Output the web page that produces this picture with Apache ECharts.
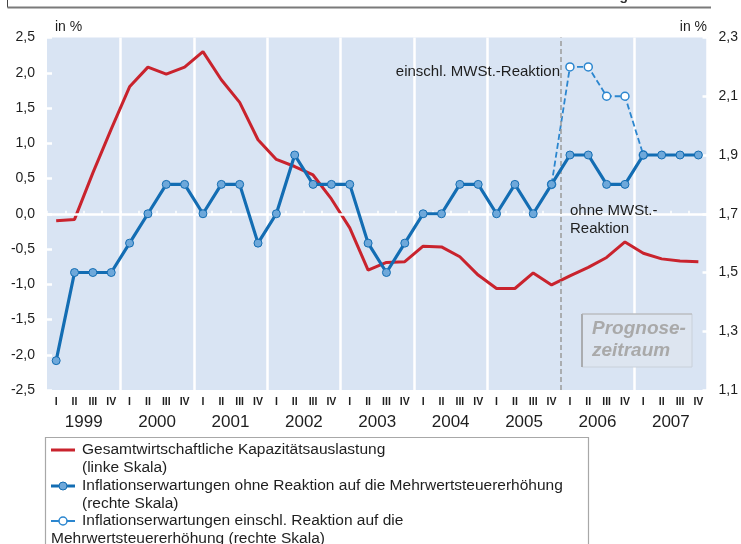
<!DOCTYPE html>
<html>
<head>
<meta charset="utf-8">
<script src="https://cdn.jsdelivr.net/npm/echarts@6/dist/echarts.min.js"></script>
<style>
html,body{margin:0;padding:0;background:#fff;}
#chart{width:741px;height:544px;}
</style>
</head>
<body>
<div id="chart"></div>
<script>
// ---- data ----
var years = ['1999','2000','2001','2002','2003','2004','2005','2006','2007'];
var quarterLabels = ['I','II','III','IV'];
var forecastStartYear = '2006';

// Gesamtwirtschaftliche Kapazitätsauslastung (linke Skala), in %
var capacity = [-0.10,-0.08,0.58,1.20, 1.80,2.08,1.98,2.08, 2.30,1.90,1.58,1.05,
                0.77,0.67,0.55,0.21, -0.20,-0.80,-0.69,-0.68, -0.46,-0.47,-0.61,-0.87,
                -1.06,-1.06,-0.84,-1.01, -0.88,-0.76,-0.62,-0.40, -0.56,-0.64,-0.67,-0.68];

// Inflationserwartungen ohne Reaktion auf die MWSt-Erhöhung (rechte Skala), in %
var inflOhne = [1.2,1.5,1.5,1.5, 1.6,1.7,1.8,1.8, 1.7,1.8,1.8,1.6,
                1.7,1.9,1.8,1.8, 1.8,1.6,1.5,1.6, 1.7,1.7,1.8,1.8,
                1.7,1.8,1.7,1.8, 1.9,1.9,1.8,1.8, 1.9,1.9,1.9,1.9];

// Inflationserwartungen einschl. Reaktion auf die MWSt-Erhöhung (rechte Skala), in %
var inflEinschl = [null,null,null,null, null,null,null,null, null,null,null,null,
                   null,null,null,null, null,null,null,null, null,null,null,null,
                   null,null,null,1.8, 2.2,2.2,2.1,2.1, 1.9,null,null,null];

var leftTicks = {min:-2.5, max:2.5, interval:0.5};
var rightTicks = {min:1.1, max:2.3, interval:0.2};

// ---- build ----
var categories = [];
years.forEach(function(y){ quarterLabels.forEach(function(q){ categories.push(y + ' ' + q); }); });
var forecastIndex = categories.indexOf(forecastStartYear + ' I');
var forecastYearIdx = years.indexOf(forecastStartYear);

var FONT = '"Liberation Sans", Arial, Helvetica, sans-serif';
var TXT = '#1e1e1e';
var RED = '#c9232d';
var BLUE = '#136db3';
var BLUE_FILL = '#6ea8da';
var BLUE_DASH = '#2b86cf';
var LEG = '15.5px ' + FONT;
var ANN = '15px ' + FONT;
function comma(v){ return v.toFixed(1).replace('.', ','); }

var chart = echarts.init(document.getElementById('chart'), null, {renderer:'canvas'});

var option = {
  animation: false,
  textStyle: {fontFamily: FONT},
  grid: {left:47, right:30, top:37.5, bottom:154, show:true, backgroundColor:'#d9e4f3', borderWidth:0},
  xAxis: [
    {
      type:'category', data:categories, boundaryGap:true, position:'bottom',
      axisLine:{show:false},
      axisTick:{show:true, inside:true, length:3, interval:0, lineStyle:{color:'#ffffff', width:1.5}},
      axisLabel:{interval:0, margin:7, fontSize:10.5, fontWeight:'bold', color:TXT, fontFamily:FONT,
                 formatter:function(v){ return v.split(' ')[1]; }},
      splitLine:{show:false}
    },
    {
      type:'category', data:years, boundaryGap:true, position:'bottom',
      axisLine:{show:false}, axisTick:{show:false},
      axisLabel:{margin:24, fontSize:17, color:TXT, fontFamily:FONT},
      splitLine:{show:true, interval:function(idx){ return idx !== 0 && idx !== forecastYearIdx; },
                 lineStyle:{color:'#ffffff', width:2.5}}
    },
    { type:'value', min:0, max:categories.length, show:false }
  ],
  yAxis: [
    {
      type:'value', min:leftTicks.min, max:leftTicks.max, interval:leftTicks.interval, position:'left',
      axisLine:{show:false},
      axisTick:{show:true, inside:true, length:5, lineStyle:{color:'#ffffff', width:2.5}},
      axisLabel:{margin:12, fontSize:14, color:TXT, fontFamily:FONT, formatter:comma},
      splitLine:{show:false}
    },
    {
      type:'value', min:rightTicks.min, max:rightTicks.max, interval:rightTicks.interval, position:'right',
      axisLine:{show:false},
      axisTick:{show:true, inside:true, length:5, lineStyle:{color:'#ffffff', width:2.5}},
      axisLabel:{margin:11, fontSize:14, color:TXT, fontFamily:FONT, formatter:comma},
      splitLine:{show:false}
    }
  ],
  series: [
    { // zero line (left scale)
      type:'line', xAxisIndex:0, yAxisIndex:0, data:[], z:1, silent:true,
      markLine:{silent:true, symbol:'none', animation:false, label:{show:false},
        lineStyle:{color:'#ffffff', width:2.5, type:'solid'}, data:[{yAxis:0}]}
    },
    { // forecast boundary
      type:'line', xAxisIndex:2, yAxisIndex:0, data:[], z:1, silent:true,
      markLine:{silent:true, symbol:'none', animation:false, label:{show:false},
        lineStyle:{color:'#9a9a9a', width:1.5, type:[5,3]}, data:[{xAxis:forecastIndex}]}
    },
    {
      name:'Gesamtwirtschaftliche Kapazitätsauslastung', type:'line', xAxisIndex:0, yAxisIndex:0,
      data:capacity, showSymbol:false, symbol:'none', z:3,
      lineStyle:{color:RED, width:3}, itemStyle:{color:RED}
    },
    {
      name:'Inflationserwartungen einschl. Reaktion', type:'line', xAxisIndex:0, yAxisIndex:1,
      data:inflEinschl, connectNulls:false, symbol:'circle', symbolSize:8, z:4,
      lineStyle:{color:BLUE_DASH, width:1.8, type:[6,3]},
      itemStyle:{color:'#ffffff', borderColor:BLUE_DASH, borderWidth:1.5}
    },
    {
      name:'Inflationserwartungen ohne Reaktion', type:'line', xAxisIndex:0, yAxisIndex:1,
      data:inflOhne, symbol:'circle', symbolSize:8, z:5,
      lineStyle:{color:BLUE, width:3.2},
      itemStyle:{color:BLUE_FILL, borderColor:BLUE, borderWidth:1}
    }
  ],
  graphic: [
    // cut-off title frame at the top
    {type:'line', shape:{x1:7.5, y1:0, x2:7.5, y2:7.5}, style:{stroke:'#444', lineWidth:1}, silent:true},
    {type:'line', shape:{x1:7.5, y1:7.5, x2:711, y2:7.5}, style:{stroke:'#7a7a7a', lineWidth:2}, silent:true},
    {type:'text', x:628, y:3.5, style:{text:'Auslastung', font:'bold 14px '+FONT, fill:'#333', align:'right', verticalAlign:'bottom'}, silent:true},
    // axis units
    {type:'text', x:55, y:27, style:{text:'in %', font:'14px '+FONT, fill:TXT, align:'left', verticalAlign:'middle'}, silent:true},
    {type:'text', x:707, y:27, style:{text:'in %', font:'14px '+FONT, fill:TXT, align:'right', verticalAlign:'middle'}, silent:true},
    // annotations
    {type:'text', x:560, y:72, z:10, style:{text:'einschl. MWSt.-Reaktion', font:ANN, fill:TXT, align:'right', verticalAlign:'middle'}, silent:true},
    {type:'text', x:570, y:211, z:10, style:{text:'ohne MWSt.-', font:ANN, fill:TXT, align:'left', verticalAlign:'middle'}, silent:true},
    {type:'text', x:570, y:229, z:10, style:{text:'Reaktion', font:ANN, fill:TXT, align:'left', verticalAlign:'middle'}, silent:true},
    // Prognosezeitraum box
    {type:'rect', z:10, shape:{x:582, y:314, width:110, height:53}, style:{fill:'#dde5f0', stroke:'#c9d0da', lineWidth:1}, silent:true},
    {type:'line', z:11, shape:{x1:582, y1:314, x2:582, y2:367}, style:{stroke:'#9c9c9c', lineWidth:1.5}, silent:true},
    {type:'line', z:11, shape:{x1:582, y1:314, x2:692, y2:314}, style:{stroke:'#b4b4b4', lineWidth:1}, silent:true},
    {type:'text', z:12, x:592, y:329, style:{text:'Prognose-', font:'italic bold 19px '+FONT, fill:'#a9a9a9', align:'left', verticalAlign:'middle'}, silent:true},
    {type:'text', z:12, x:592, y:351, style:{text:'zeitraum', font:'italic bold 19px '+FONT, fill:'#a9a9a9', align:'left', verticalAlign:'middle'}, silent:true},
    // legend box
    {type:'rect', z:10, shape:{x:45.5, y:437.5, width:543, height:120}, style:{fill:'#ffffff', stroke:'#a8a8a8', lineWidth:1.2}, silent:true},
    {type:'line', z:11, shape:{x1:51, y1:450, x2:75, y2:450}, style:{stroke:RED, lineWidth:3}, silent:true},
    {type:'text', z:11, x:82, y:450, style:{text:'Gesamtwirtschaftliche Kapazitätsauslastung', font:LEG, fill:TXT, verticalAlign:'middle'}, silent:true},
    {type:'text', z:11, x:82, y:467.5, style:{text:'(linke Skala)', font:LEG, fill:TXT, verticalAlign:'middle'}, silent:true},
    {type:'line', z:11, shape:{x1:51, y1:486, x2:75, y2:486}, style:{stroke:BLUE, lineWidth:3}, silent:true},
    {type:'circle', z:12, shape:{cx:63, cy:486, r:4}, style:{fill:BLUE_FILL, stroke:BLUE, lineWidth:1}, silent:true},
    {type:'text', z:11, x:82, y:486, style:{text:'Inflationserwartungen ohne Reaktion auf die Mehrwertsteuererhöhung', font:LEG, fill:TXT, verticalAlign:'middle'}, silent:true},
    {type:'text', z:11, x:82, y:503.5, style:{text:'(rechte Skala)', font:LEG, fill:TXT, verticalAlign:'middle'}, silent:true},
    {type:'line', z:11, shape:{x1:51, y1:521, x2:75, y2:521}, style:{stroke:BLUE_DASH, lineWidth:2}, silent:true},
    {type:'circle', z:12, shape:{cx:63, cy:521, r:4}, style:{fill:'#ffffff', stroke:BLUE_DASH, lineWidth:1.5}, silent:true},
    {type:'text', z:11, x:82, y:521, style:{text:'Inflationserwartungen einschl. Reaktion auf die', font:LEG, fill:TXT, verticalAlign:'middle'}, silent:true},
    {type:'text', z:11, x:51, y:538.5, style:{text:'Mehrwertsteuererhöhung (rechte Skala)', font:LEG, fill:TXT, verticalAlign:'middle'}, silent:true}
  ]
};
chart.setOption(option);
</script>
</body>
</html>
